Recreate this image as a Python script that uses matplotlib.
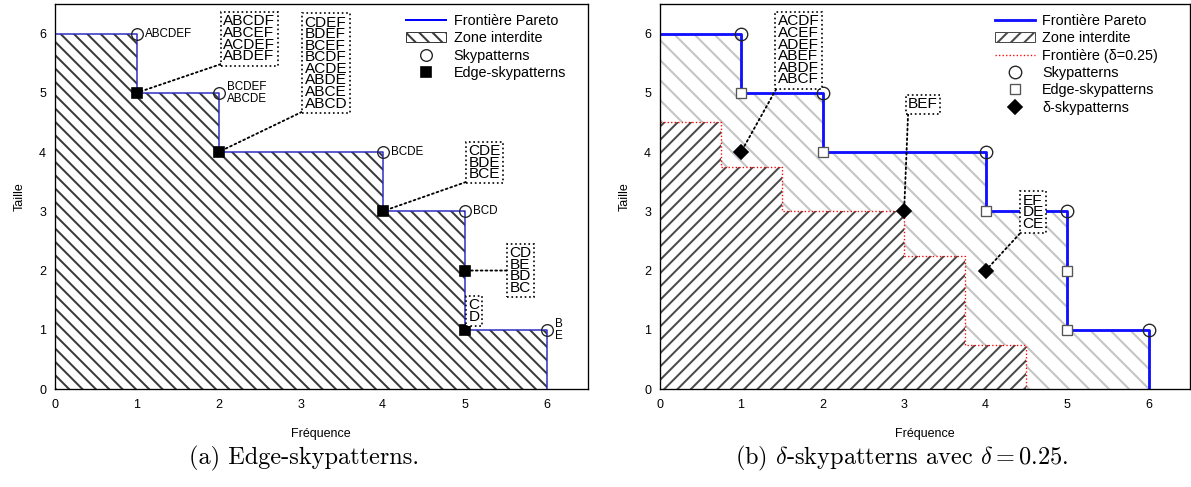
import matplotlib.pyplot as plt
from matplotlib.lines import Line2D
from matplotlib.patches import Patch

plt.rcParams['font.family'] = ['Liberation Sans', 'DejaVu Sans']
plt.rcParams['mathtext.fontset'] = 'cm'
plt.rcParams['hatch.linewidth'] = 1.2

# skypatterns : (fréquence, taille) et motifs associés
sky_freq = [1, 2, 4, 5, 6]
sky_size = [6, 5, 4, 3, 1]
sky_labels = ["ABCDEF", "BCDEF\nABCDE", "BCDE", "BCD", "B\nE"]

# edge-skypatterns
edge_freq = [1, 2, 4, 5, 5]
edge_size = [5, 4, 3, 2, 1]
edge_groups = ["ABCDF\nABCEF\nACDEF\nABDEF",
               "CDEF\nBDEF\nBCEF\nBCDF\nACDE\nABDE\nABCE\nABCD",
               "CDE\nBDE\nBCE",
               "CD\nBE\nBD\nBC",
               "C\nD"]

# frontière relâchée pour delta = 0.25
delta_front_freq = [0.75, 1.5, 3.0, 3.75, 4.5]
delta_front_size = [4.5, 3.75, 3.0, 2.25, 0.75]

# delta-skypatterns
delta_freq = [1, 3, 4]
delta_size = [4, 3, 2]
delta_groups = ["ACDF\nACEF\nADEF\nABEF\nABDF\nABCF", "BEF", "EF\nDE\nCE"]

# coins des encadrés (données)
edge_box_pos = [(2.06, 5.50), (3.05, 4.70), (5.05, 3.51), (5.55, 2.0), (5.05, 1.10)]
edge_box_link = [True, True, True, True, False]
delta_box_pos = [(1.45, 5.11), (3.05, 4.69), (4.45, 2.67)]

W, H, DPI = 1191, 487, 120
fig = plt.figure(figsize=(W / DPI, H / DPI), dpi=DPI)
ax1 = fig.add_axes([54.5 / W, 1 - 389 / H, 533 / W, 385 / H])
ax2 = fig.add_axes([659.5 / W, 1 - 389 / H, 530 / W, 385 / H])


def step_xy(freqs, sizes):
    return [0] + list(freqs), list(sizes) + [0]


def group_box(ax, text, xy, xytext, link=True):
    horiz = abs(xytext[1] - xy[1]) < 1e-9
    kw = dict(fontsize=9.2, ha='left', va='center' if horiz else 'bottom',
              linespacing=0.78, zorder=6,
              bbox=dict(boxstyle='square,pad=0.15', fc='white', ec='black', ls=':', lw=1.0))
    if link:
        kw['arrowprops'] = dict(arrowstyle='-', ls=':', lw=1.1, color='black',
                                shrinkA=0, shrinkB=3,
                                relpos=(0, 0.5) if horiz else (0, 0))
    ax.annotate(text, xy=xy, xytext=xytext, textcoords='data', **kw)


def style_axes(ax):
    ax.set_xlim(0, 6.5)
    ax.set_ylim(0, 6.5)
    ax.set_xticks(range(7))
    ax.set_yticks(range(7))
    ax.tick_params(length=0, labelsize=7.5)
    ax.tick_params(axis='x', pad=6)
    ax.tick_params(axis='y', pad=5)
    for s in ax.spines.values():
        s.set_linewidth(0.8)
    ax.set_xlabel("Fréquence", fontsize=7.5, labelpad=10)
    ax.set_ylabel("Taille", fontsize=7.5, labelpad=8)


# ---- (a) edge-skypatterns ----
fx, fy = step_xy(sky_freq, sky_size)
ax1.fill_between(fx, fy, step='post', facecolor='white', edgecolor='#3a3a3a',
                 hatch='\\\\\\', linewidth=0, zorder=1)
ax1.step(fx, fy, where='post', color='#2a2ac0', lw=0.9, zorder=2)
ax1.plot(sky_freq, sky_size, 'o', ms=7, mfc='none', mec='#222222', mew=0.8, zorder=4)
ax1.plot(edge_freq, edge_size, 's', ms=6, color='black', zorder=4)

for f, s, lbl in zip(sky_freq, sky_size, sky_labels):
    ax1.annotate(lbl, (f, s), xytext=(5, 0), textcoords='offset points',
                 fontsize=7, va='center', ha='left', linespacing=0.95)

for f, s, txt, pos, link in zip(edge_freq, edge_size, edge_groups, edge_box_pos, edge_box_link):
    group_box(ax1, txt, (f, s), pos, link)

h1 = [Line2D([], [], color='blue', lw=1.2),
      Patch(facecolor='white', edgecolor='#3a3a3a', hatch='\\\\\\', lw=0.6),
      Line2D([], [], ls='none', marker='o', ms=7, mfc='none', mec='#222222', mew=0.8),
      Line2D([], [], ls='none', marker='s', ms=6, color='black')]
ax1.legend(h1, ["Frontière Pareto", "Zone interdite", "Skypatterns", "Edge-skypatterns"],
           loc='upper left', bbox_to_anchor=(4.29 / 6.5, 6.33 / 6.5), frameon=False,
           fontsize=8.6, borderpad=0, borderaxespad=0, handlelength=2.8,
           handletextpad=0.5, labelspacing=0.23)
style_axes(ax1)

# ---- (b) delta-skypatterns ----
ax2.fill_between(fx, fy, step='post', facecolor='white', edgecolor='#c4c4c4',
                 hatch='\\\\', linewidth=0, zorder=1)
dx, dy = step_xy(delta_front_freq, delta_front_size)
ax2.fill_between(dx, dy, step='post', facecolor='white', edgecolor='#4a4a4a',
                 hatch='///', linewidth=0, zorder=1.5)
ax2.step(dx, dy, where='post', color='red', ls=':', lw=0.8, zorder=2)
ax2.step(fx, fy, where='post', color='#1010ff', lw=1.7, zorder=2.5)
ax2.plot(sky_freq, sky_size, 'o', ms=7.5, mfc='none', mec='#222222', mew=0.8, zorder=4)
ax2.plot(edge_freq, edge_size, 's', ms=6, mfc='white', mec='#555555', mew=0.8, zorder=4)
ax2.plot(delta_freq, delta_size, 'D', ms=6, color='black', zorder=4)

for f, s, txt, pos in zip(delta_freq, delta_size, delta_groups, delta_box_pos):
    group_box(ax2, txt, (f, s), pos)

h2 = [Line2D([], [], color='#1010ff', lw=1.7),
      Patch(facecolor='white', edgecolor='#4a4a4a', hatch='///', lw=0.6),
      Line2D([], [], color='red', ls=':', lw=0.8),
      Line2D([], [], ls='none', marker='o', ms=7.5, mfc='none', mec='#222222', mew=0.8),
      Line2D([], [], ls='none', marker='s', ms=6, mfc='white', mec='#555555', mew=0.8),
      Line2D([], [], ls='none', marker='D', ms=6, color='black')]
ax2.legend(h2, ["Frontière Pareto", "Zone interdite", "Frontière (δ=0.25)",
                "Skypatterns", "Edge-skypatterns", "δ-skypatterns"],
           loc='upper left', bbox_to_anchor=(4.11 / 6.5, 6.33 / 6.5), frameon=False,
           fontsize=8.6, borderpad=0, borderaxespad=0, handlelength=2.8,
           handletextpad=0.5, labelspacing=0.23)
style_axes(ax2)

fig.text(304 / W, 1 - 458 / H, "(a) Edge-skypatterns.", fontfamily='cmr10',
         fontsize=14.6, ha='center', va='center')
fig.text(902 / W, 1 - 458 / H, r"(b) $\delta$-skypatterns avec $\delta = 0.25$.",
         fontfamily='cmr10', fontsize=14.6, ha='center', va='center')

fig.savefig("out.png", dpi=DPI)
